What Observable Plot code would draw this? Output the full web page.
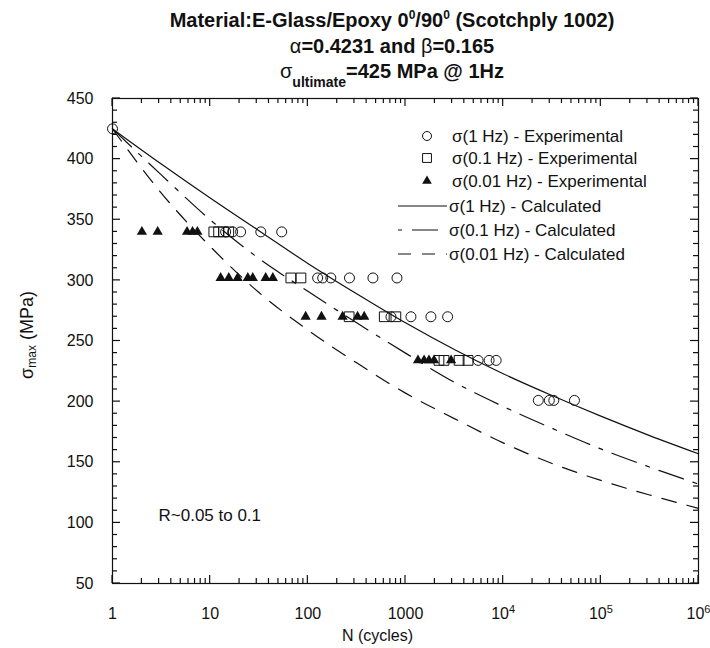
<!DOCTYPE html>
<html>
<head>
<meta charset="utf-8">
<script src="https://cdn.jsdelivr.net/npm/d3@7"></script>
<script src="https://cdn.jsdelivr.net/npm/@observablehq/plot@0.6"></script>
<style>
  body { margin: 0; background: #fff; font-family: "Liberation Sans", Arial, sans-serif; color: #111; }
  #wrap { position: relative; width: 710px; height: 648px; overflow: hidden; }
  #title div { position: absolute; left: 0; width: 784px; text-align: center; font-weight: bold; font-size: 20px; line-height: 20px; white-space: nowrap; }
  #title .g { font-weight: normal; }
  #title sup { font-size: 12px; vertical-align: 0; position: relative; top: -8px; }
  #title sub { font-size: 14px; vertical-align: 0; position: relative; top: 9px; }
  #chart { position: absolute; left: 0; top: 88px; }
</style>
</head>
<body>
<div id="wrap">
  <div id="title">
    <div style="top:10px">Material:E-Glass/Epoxy 0<sup>0</sup>/90<sup>0</sup> (Scotchply 1002)</div>
    <div style="top:36px"><span class="g">α</span>=0.4231 and <span class="g">β</span>=0.165</div>
    <div style="top:61px"><span class="g">σ</span><sub>ultimate</sub>=425 MPa @ 1Hz</div>
  </div>
  <div id="chart"></div>
</div>
<script>
// Axis ticks
const xTickValues = [1, 10, 100, 1000, 1e4, 1e5, 1e6];
const xTickLabels = ["1", "10", "100", "1000", "10^4", "10^5", "10^6"];
const yTickValues = [50, 100, 150, 200, 250, 300, 350, 400, 450];

// Experimental data: cycles to failure N and peak stress (MPa)
const exp1HzN = [1, 14.4, 17, 20.5, 33, 54, 126, 142, 172, 267, 464, 818, 710, 1137, 1820, 2700, 5540, 7180, 8480, 22900, 29700, 33000, 53700];
const exp1HzS = [425, 340, 340, 340, 340, 340, 302, 302, 302, 302, 302, 302, 270, 270, 270, 270, 234, 234, 234, 201, 201, 201, 201];

const exp01HzN = [10.9, 12.2, 13.7, 15.5, 67, 85, 265, 606, 797, 2200, 2480, 3540, 4370];
const exp01HzS = [340, 340, 340, 340, 302, 302, 270, 270, 270, 234, 234, 234, 234];

const exp001HzN = [2.0, 2.9, 5.8, 6.6, 7.4, 12.8, 15.5, 19.1, 24.3, 27.3, 37, 43.8, 95, 138, 227, 323, 378, 1343, 1550, 1740, 1960, 2930];
const exp001HzS = [340, 340, 340, 340, 340, 302, 302, 302, 302, 302, 302, 302, 270, 270, 270, 270, 270, 234, 234, 234, 234, 234];

// Calculated curves, sampled every half decade
const calcN = [1, 3.16, 10, 31.6, 100, 316, 1000, 3162, 1e4, 31623, 1e5, 316228, 1e6];
const calc1Hz = [425, 396, 368, 341, 314, 289, 265, 243, 223, 205, 188, 172, 157];
const calc01Hz = [425, 387, 350, 318, 291, 265, 240, 216, 196, 178, 161, 146, 132];
const calc001Hz = [425, 372, 328, 290, 259, 232, 207, 186, 166, 149, 135, 123, 112];

const pts = (ns, ss) => ns.map((n, i) => ({n, s: ss[i]}));
const p1 = pts(exp1HzN, exp1HzS);
const p01 = pts(exp01HzN, exp01HzS);
const p001 = pts(exp001HzN, exp001HzS);
const c1 = pts(calcN, calc1Hz);
const c01 = pts(calcN, calc01Hz);
const c001 = pts(calcN, calc001Hz);

const W = 710, H = 560, mT = 10, mR = 12, mB = 65, mL = 112;
const plotH = H - mT - mB, plotW = W - mL - mR;
const xDomain = [1, 1e6], yDomain = [50, 450];

// Minor ticks: 2..9 within each decade, every 10 MPa on stress
const xMinor = [];
for (let d = 1; d < 1e6; d *= 10) for (let k = 2; k <= 9; k++) xMinor.push(d * k);
const yMinor = d3.range(60, 450, 10).filter(v => v % 50 !== 0);

// Inward-pointing tick segments along all four frame edges
const tickRows = (len, xs, ys) => [
  ...xs.map(v => ({x1: v, x2: v, edge: "bottom", len})),
  ...xs.map(v => ({x1: v, x2: v, edge: "top", len})),
  ...ys.map(v => ({y: v, edge: "left", len})),
  ...ys.map(v => ({y: v, edge: "right", len}))
];
const allTicks = [...tickRows(5, xMinor, yMinor), ...tickRows(8, xTickValues, yTickValues)];

const dashDot = "26,10,4,10";
const dashed = "15,11";

const chart = Plot.plot({
  width: W, height: H,
  marginTop: mT, marginRight: mR, marginBottom: mB, marginLeft: mL,
  x: {type: "log", domain: xDomain},
  y: {domain: yDomain},
  style: {fontFamily: "Liberation Sans, Arial, sans-serif", fontSize: "16px", color: "#111", background: "white"},
  marks: [
    Plot.axisX({ticks: xTickValues, tickSize: 0, tickPadding: 24, fontSize: 16, label: null,
      tickFormat: d => xTickLabels[xTickValues.indexOf(d)]}),
    Plot.axisY({ticks: yTickValues, tickSize: 0, tickPadding: 19, fontSize: 16, label: null}),
    // calculated curves
    Plot.line(c1, {x: "n", y: "s", stroke: "#111", strokeWidth: 1.2, curve: "monotone-x"}),
    Plot.line(c01, {x: "n", y: "s", stroke: "#111", strokeWidth: 1.2, curve: "monotone-x", strokeDasharray: dashDot}),
    Plot.line(c001, {x: "n", y: "s", stroke: "#111", strokeWidth: 1.2, curve: "monotone-x", strokeDasharray: dashed}),
    // experimental points
    Plot.dot(p1, {x: "n", y: "s", r: 5, symbol: "circle", stroke: "#111", fill: "none", strokeWidth: 1}),
    Plot.dot(p01, {x: "n", y: "s", r: 5.5, symbol: "square", stroke: "#111", fill: "none", strokeWidth: 1}),
    Plot.dot(p001, {x: "n", y: "s", r: 3.8, symbol: "triangle", fill: "#111", stroke: "none"}),
    Plot.text(["R~0.05 to 0.1"], {frameAnchor: "bottom-left", textAnchor: "start", lineAnchor: "middle", dx: 46, dy: -68, fontSize: 17, fill: "#111"}),
    Plot.text(["N (cycles)"], {frameAnchor: "bottom", lineAnchor: "middle", dx: -28, dy: 52, fontSize: 16, fill: "#111"}),
    Plot.frame({stroke: "#111", strokeWidth: 1.2})
  ]
});

const svg = d3.select(chart);

// frame ticks, placed through the chart's own scales
const sx = chart.scale("x"), sy = chart.scale("y");
const xs = v => sx.apply(v), ys = v => sy.apply(v);
const fx0 = mL, fx1 = W - mR, fy0 = mT, fy1 = H - mB;
const tg = svg.append("g").attr("stroke", "#111").attr("stroke-width", 1.2);
for (const t of allTicks) {
  if (t.edge === "bottom") tg.append("line").attr("x1", xs(t.x1)).attr("x2", xs(t.x1)).attr("y1", fy1).attr("y2", fy1 - t.len);
  if (t.edge === "top") tg.append("line").attr("x1", xs(t.x1)).attr("x2", xs(t.x1)).attr("y1", fy0).attr("y2", fy0 + t.len);
  if (t.edge === "left") tg.append("line").attr("y1", ys(t.y)).attr("y2", ys(t.y)).attr("x1", fx0).attr("x2", fx0 + t.len);
  if (t.edge === "right") tg.append("line").attr("y1", ys(t.y)).attr("y2", ys(t.y)).attr("x1", fx1).attr("x2", fx1 - t.len);
}

// powers of ten on the x axis
svg.selectAll('g[aria-label="x-axis tick label"] text').each(function() {
  const t = this.textContent;
  if (t.includes("^")) {
    const [b, e] = t.split("^");
    const s = d3.select(this);
    s.text(b);
    s.append("tspan").attr("dy", "-0.5em").attr("font-size", "11px").text(e);
  }
});

// y axis title with subscript
const yl = svg.append("text")
  .attr("transform", `translate(27,${335 - 88}) rotate(-90)`)
  .attr("text-anchor", "middle").attr("dominant-baseline", "central")
  .attr("font-size", 18).attr("fill", "#111");
yl.append("tspan").text("σ");
yl.append("tspan").attr("font-size", 12).attr("dy", "0.45em").text("max");
yl.append("tspan").attr("dy", "-0.3em").text(" (MPa)");

// legend
const legendRows = [
  {label: "σ(1 Hz) - Experimental", kind: "circle"},
  {label: "σ(0.1 Hz) - Experimental", kind: "square"},
  {label: "σ(0.01 Hz) - Experimental", kind: "triangle"},
  {label: "σ(1 Hz) - Calculated", kind: "solid"},
  {label: "σ(0.1 Hz) - Calculated", kind: "dashdot"},
  {label: "σ(0.01 Hz) - Calculated", kind: "dashed"}
];
const rowY = [48, 70, 93, 118, 142, 166];
const lg = svg.append("g").attr("font-size", 17).attr("fill", "#111").attr("text-anchor", "start");
legendRows.forEach((r, i) => {
  const y = rowY[i];
  if (r.kind === "circle" || r.kind === "square" || r.kind === "triangle") {
    const sym = r.kind === "circle" ? d3.symbolCircle : r.kind === "square" ? d3.symbolSquare : d3.symbolTriangle;
    const rr = r.kind === "circle" ? 4.5 : r.kind === "square" ? 5 : 3.6;
    lg.append("path").attr("transform", `translate(427,${y})`)
      .attr("d", d3.symbol(sym, Math.PI * rr * rr)())
      .attr("fill", r.kind === "triangle" ? "#111" : "none")
      .attr("stroke", r.kind === "triangle" ? "none" : "#111");
    lg.append("text").attr("x", 452).attr("y", y).attr("dy", "0.35em").text(r.label);
  } else {
    const line = lg.append("line").attr("x1", 398).attr("x2", 447).attr("y1", y).attr("y2", y)
      .attr("stroke", "#111").attr("stroke-width", 1.2);
    if (r.kind === "dashdot") line.attr("stroke-dasharray", dashDot).attr("stroke-dashoffset", 36);
    if (r.kind === "dashed") line.attr("stroke-dasharray", "13,11");
    lg.append("text").attr("x", 449).attr("y", y).attr("dy", "0.35em").text(r.label);
  }
});

document.getElementById("chart").appendChild(chart);
</script>
</body>
</html>
